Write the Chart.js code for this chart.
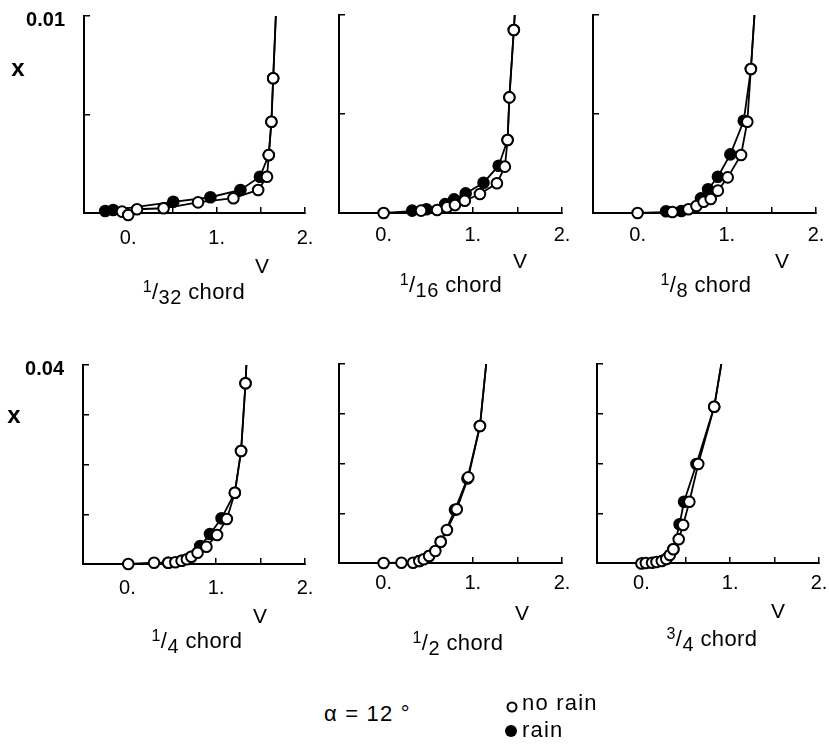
<!DOCTYPE html>
<html><head><meta charset="utf-8">
<script src="https://cdn.jsdelivr.net/npm/chart.js@4.4.1/dist/chart.umd.min.js"></script>
<style>
html,body{margin:0;padding:0;background:#fff;}
body{width:829px;height:746px;position:relative;overflow:hidden;font-family:"Liberation Sans",Arial,Helvetica,sans-serif;color:#000;}
canvas{position:absolute;}
.c{position:absolute;transform:translate(-50%,-50%);white-space:nowrap;line-height:1;}
.t{font-size:22px;letter-spacing:0.4px;}
.t .sp{font-size:16px;position:relative;top:-7px;}
.t .sb{font-size:20px;position:relative;top:5px;}
.v{font-size:21px;}
.ax{font-size:24px;font-weight:bold;}
.lt{position:absolute;font-size:22px;line-height:22px;white-space:nowrap;letter-spacing:1.2px;}
.mk{position:absolute;border-radius:50%;transform:translate(-50%,-50%);box-sizing:border-box;}
</style>
</head><body>
<script>
// ---------- data ----------
const panelNames = [['1','32'],['1','16'],['1','8'],['1','4'],['1','2'],['3','4']];
const vTickLabels = ['0.', '1.', '2.'];
const xTopLabels = ['0.01', null, null, '0.04', null, null];
const xMax = [0.01, 0.01, 0.01, 0.04, 0.04, 0.04];
const xStep = [0.005, 0.005, 0.005, 0.01, 0.01, 0.01];

const p1NoRainV = [-0.07, 0.00, 0.10, 0.40, 0.79, 1.19, 1.47, 1.57, 1.59, 1.62, 1.64, 1.67];
const p1NoRainX = [0.00007, -0.0001, 0.00019, 0.00024, 0.00054, 0.00075, 0.00117, 0.00184, 0.00294, 0.00463, 0.00684, 0.0100];
const p1RainV = [-0.26, -0.17, 0.51, 0.93, 1.27, 1.49, 1.59, 1.62, 1.64, 1.67];
const p1RainX = [0.0001, 0.00015, 0.00057, 0.0008, 0.00117, 0.00184, 0.00294, 0.00463, 0.00684, 0.0100];

const p2NoRainV = [0.00, 0.42, 0.60, 0.71, 0.80, 0.91, 1.08, 1.27, 1.36, 1.39, 1.41, 1.46, 1.47];
const p2NoRainX = [0.0, 0.00012, 0.00015, 0.00029, 0.0004, 0.00062, 0.00096, 0.0015, 0.00234, 0.00369, 0.00584, 0.00924, 0.0100];
const p2RainV = [0.32, 0.48, 0.69, 0.79, 0.92, 1.12, 1.29, 1.39, 1.41, 1.46, 1.47];
const p2RainX = [0.00012, 0.00019, 0.00045, 0.00069, 0.00099, 0.00153, 0.00239, 0.00369, 0.00584, 0.00924, 0.0100];

const p3NoRainV = [0.00, 0.39, 0.57, 0.66, 0.74, 0.82, 0.90, 1.01, 1.16, 1.23, 1.27, 1.31];
const p3NoRainX = [0.0, 0.00005, 0.00019, 0.00035, 0.00057, 0.00071, 0.00113, 0.0018, 0.00293, 0.00461, 0.00727, 0.0100];
const p3RainV = [0.32, 0.49, 0.71, 0.79, 0.90, 1.04, 1.19, 1.27, 1.31];
const p3RainX = [0.00009, 0.0001, 0.00074, 0.0012, 0.00183, 0.00296, 0.00466, 0.00727, 0.0100];

const p4NoRainV = [0.01, 0.30, 0.46, 0.54, 0.61, 0.67, 0.72, 0.79, 0.89, 1.01, 1.12, 1.21, 1.28, 1.33, 1.34];
const p4NoRainX = [0.0, 0.00026, 0.00026, 0.00034, 0.00066, 0.00094, 0.00147, 0.00227, 0.00348, 0.00583, 0.00905, 0.01433, 0.02271, 0.03632, 0.0400];
const p4RainV = [0.46, 0.61, 0.72, 0.82, 0.93, 1.06, 1.21, 1.28, 1.33, 1.34];
const p4RainX = [0.00026, 0.00066, 0.00147, 0.00362, 0.00603, 0.00918, 0.01433, 0.02271, 0.03632, 0.0400];

const p5NoRainV = [0.00, 0.20, 0.33, 0.40, 0.45, 0.51, 0.58, 0.64, 0.71, 0.82, 0.95, 1.08, 1.15];
const p5NoRainX = [0.0, 0.00006, 0.00006, 0.0004, 0.00074, 0.00141, 0.00241, 0.00428, 0.00663, 0.01079, 0.01722, 0.02754, 0.0400];
const p5RainV = [0.40, 0.51, 0.64, 0.80, 0.94, 1.08, 1.15];
const p5RainX = [0.0004, 0.00141, 0.00428, 0.0107, 0.0170, 0.02754, 0.0400];

const p6NoRainV = [0.00, 0.05, 0.12, 0.17, 0.23, 0.28, 0.32, 0.36, 0.42, 0.47, 0.54, 0.64, 0.82, 0.90];
const p6NoRainX = [-0.0001, 0.0, 0.00006, 0.0002, 0.0004, 0.0008, 0.00161, 0.00275, 0.00476, 0.00764, 0.01232, 0.0199, 0.03141, 0.0400];
const p6RainV = [0.28, 0.36, 0.43, 0.48, 0.62, 0.82, 0.90];
const p6RainX = [0.0008, 0.00275, 0.00778, 0.01232, 0.0199, 0.03141, 0.0400];

const seriesNames = ['no rain', 'rain'];

// ---------- layout (positions only) ----------
const layout = [
  {L:84,  T:16,  R:305, B:213, pad:19, vx:262, vy:265, tx:194, ty:292},
  {L:339, T:15,  R:562, B:213, pad:16, vx:520, vy:260, tx:451, ty:285},
  {L:593, T:15,  R:816, B:213, pad:16, vx:782, vy:260, tx:706, ty:285},
  {L:83,  T:365, R:305, B:564, pad:18, vx:260, vy:615, tx:197, ty:641},
  {L:339, T:364, R:562, B:563, pad:14, vx:522, vy:612, tx:458, ty:643},
  {L:597, T:364, R:819, B:563, pad:14, vx:778, vy:610, tx:712, ty:639}
];
const noRain = [[p1NoRainV,p1NoRainX],[p2NoRainV,p2NoRainX],[p3NoRainV,p3NoRainX],[p4NoRainV,p4NoRainX],[p5NoRainV,p5NoRainX],[p6NoRainV,p6NoRainX]];
const rain = [[p1RainV,p1RainX],[p2RainV,p2RainX],[p3RainV,p3RainX],[p4RainV,p4RainX],[p5RainV,p5RainX],[p6RainV,p6RainX]];

const FONT = '"Liberation Sans", Arial, Helvetica, sans-serif';
const PADL = 75, PADT = 20, PADR = 30, PADB = 50;

function pts(pair){ return pair[0].map((v,i)=>({x:v, y:pair[1][i]})); }

function addText(cls, html, x, y){
  const d = document.createElement('div');
  d.className = cls; d.innerHTML = html;
  d.style.left = x + 'px'; d.style.top = y + 'px';
  document.body.appendChild(d);
  return d;
}

layout.forEach((g, i) => {
  const cv = document.createElement('canvas');
  const w = (g.R - g.L) + PADL + PADR, h = (g.B - g.T) + PADT + PADB;
  cv.width = w; cv.height = h;
  cv.style.left = (g.L - PADL) + 'px'; cv.style.top = (g.T - PADT) + 'px';
  cv.style.width = w + 'px'; cv.style.height = h + 'px';
  document.body.appendChild(cv);
  const ymax = xMax[i];
  const rad = (ctx) => (ctx.raw && ctx.raw.y >= ymax - 1e-12) ? 0 : 5.3;
  const ds = (pair, fill, name) => ({
    label: name, data: pts(pair), showLine: true,
    borderColor: '#000', borderWidth: 1.8, tension: 0,
    pointRadius: rad, pointHoverRadius: rad,
    pointBackgroundColor: fill, pointBorderColor: '#000', pointBorderWidth: 2,
    clip: {left: 14, right: 14, top: 0, bottom: 14}
  });
  new Chart(cv, {
    type: 'scatter',
    data: { datasets: [ ds(noRain[i], '#fff', seriesNames[0]), ds(rain[i], '#000', seriesNames[1]) ] },
    options: {
      responsive: false, animation: false, events: [],
      devicePixelRatio: 1,
      layout: { padding: {left: 0, top: PADT, right: PADR, bottom: 0} },
      plugins: { legend: {display: false}, tooltip: {enabled: false} },
      scales: {
        x: {
          type: 'linear', position: 'bottom', min: -0.5, max: 2.0,
          afterFit: (s) => { s.height = PADB; s.paddingLeft = 0; s.paddingRight = 0; },
          border: {display: true, color: '#000', width: 2},
          grid: {display: true, drawOnChartArea: false, drawTicks: true, tickLength: -6, color: '#000', lineWidth: 1.5},
          ticks: {
            stepSize: 0.5, autoSkip: false, maxRotation: 0, padding: g.pad, color: '#000',
            font: {family: FONT, size: 20},
            callback: (val) => {
              const r = Math.round(val);
              return Math.abs(val - r) < 1e-9 && r >= 0 && r < vTickLabels.length ? vTickLabels[r] : '';
            }
          }
        },
        y: {
          type: 'linear', position: 'left', min: 0, max: ymax,
          afterFit: (s) => { s.width = PADL; s.paddingTop = 0; s.paddingBottom = 0; },
          border: {display: true, color: '#000', width: 2},
          grid: {display: true, drawOnChartArea: false, drawTicks: true, tickLength: -6, color: '#000', lineWidth: 1.5},
          ticks: {
            stepSize: xStep[i], autoSkip: false, padding: 25, labelOffset: 4, color: '#000',
            font: {family: FONT, size: 20, weight: 'bold'},
            callback: (val) => (Math.abs(val - ymax) < 1e-12 && xTopLabels[i]) ? xTopLabels[i] : ''
          }
        }
      }
    }
  });
  addText('c v', 'V', g.vx, g.vy);
  const nm = panelNames[i];
  addText('c t', '<span class="sp">' + nm[0] + '</span>/<span class="sb">' + nm[1] + '</span> chord', g.tx, g.ty);
});

addText('c ax', 'x', 18, 68);
addText('c ax', 'x', 14, 415);

// legend
const a = document.createElement('div'); a.className = 'lt'; a.textContent = 'α = 12 °';
a.style.left = '324px'; a.style.top = '703px'; document.body.appendChild(a);
const m1 = document.createElement('div'); m1.className = 'mk';
Object.assign(m1.style, {left:'512px', top:'707px', width:'11px', height:'11px', border:'2px solid #000', background:'#fff'});
document.body.appendChild(m1);
const m2 = document.createElement('div'); m2.className = 'mk';
Object.assign(m2.style, {left:'511px', top:'731px', width:'12px', height:'12px', background:'#000'});
document.body.appendChild(m2);
const l1 = document.createElement('div'); l1.className = 'lt'; l1.textContent = seriesNames[0];
l1.style.left = '522px'; l1.style.top = '692px'; document.body.appendChild(l1);
const l2 = document.createElement('div'); l2.className = 'lt'; l2.textContent = seriesNames[1];
l2.style.left = '522px'; l2.style.top = '719px'; document.body.appendChild(l2);
</script>
</body></html>
